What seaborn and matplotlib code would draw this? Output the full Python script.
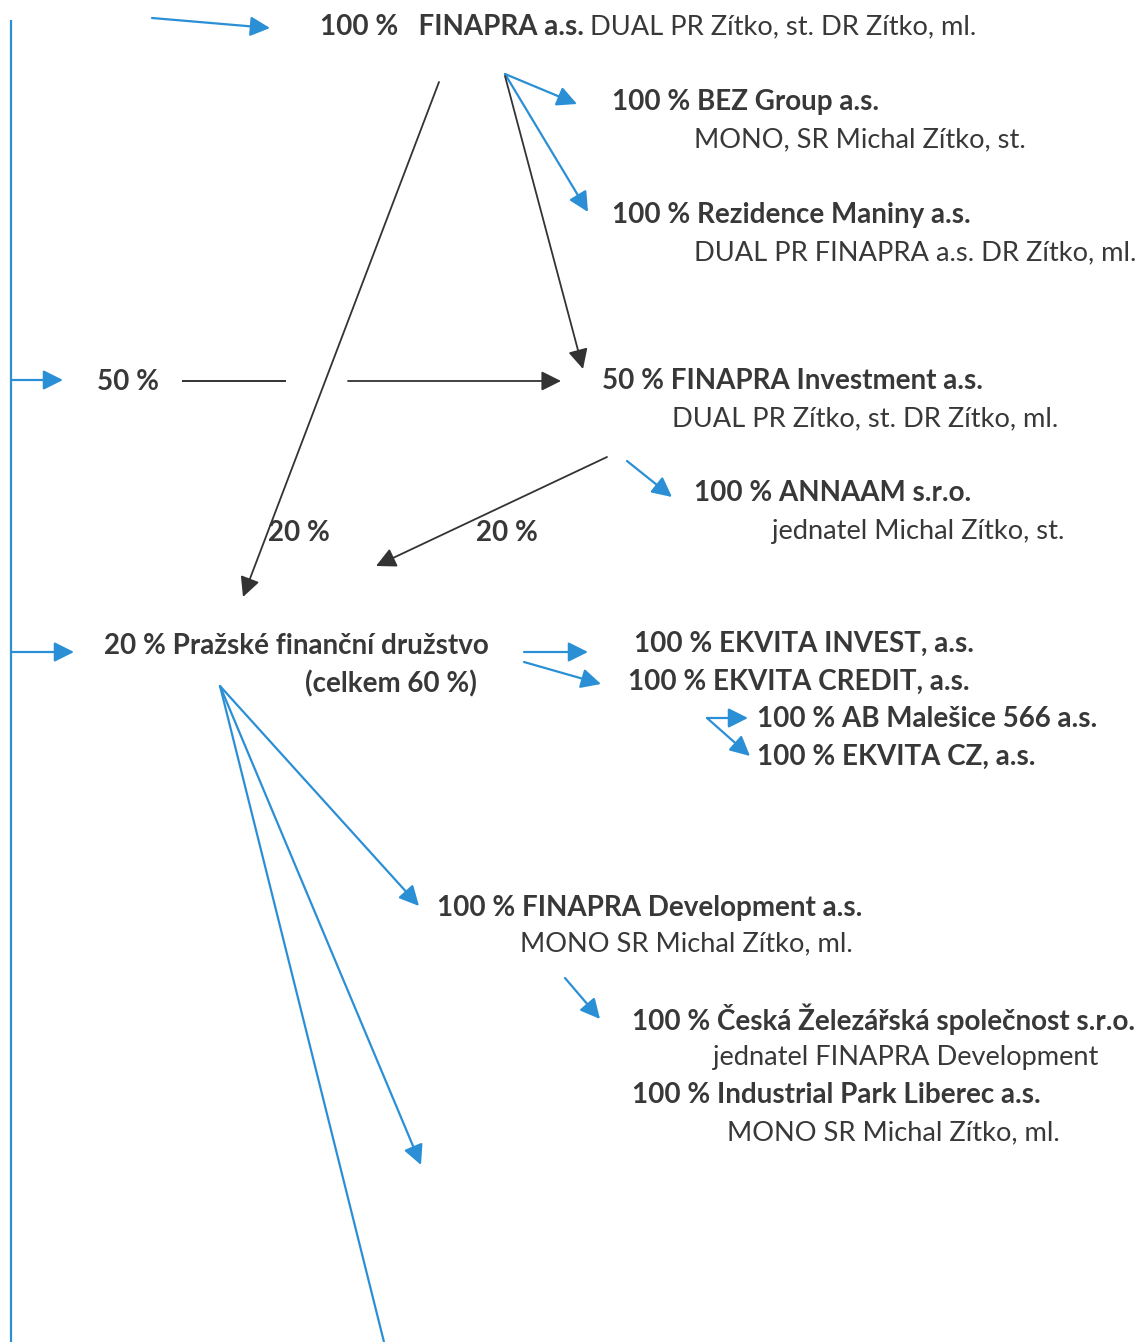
#%%
# Ownership structure diagram - FINAPRA group
import matplotlib
matplotlib.use("Agg")
import matplotlib.pyplot as plt
import seaborn as sns

sns.set_theme(style="white")
plt.rcParams['font.family'] = ['Lato', 'DejaVu Sans']

BLUE = "#2a8fd4"
DARK = "#333333"
TXT = "#383838"

#%%
# Labels (bold company lines and regular management lines)
bold_labels = [
    "100 %   FINAPRA a.s.",
    "100 % BEZ Group a.s.",
    "100 % Rezidence Maniny a.s.",
    "50 %",
    "50 % FINAPRA Investment a.s.",
    "100 % ANNAAM s.r.o.",
    "20 %",
    "20 %",
    "20 % Pražské finanční družstvo",
    "(celkem 60 %)",
    "100 % EKVITA INVEST, a.s.",
    "100 % EKVITA CREDIT, a.s.",
    "100 % AB Malešice 566 a.s.",
    "100 % EKVITA CZ, a.s.",
    "100 % FINAPRA Development a.s.",
    "100 % Česká Železářská společnost s.r.o.",
    "100 % Industrial Park Liberec a.s.",
]
bold_x = [320, 612, 612, 97, 602, 694, 268, 476, 104, 305, 634, 628, 757, 757, 437, 632, 632]
bold_y = [27, 102, 215, 382, 381, 493, 533, 533, 646, 684, 644, 682, 719, 757, 908, 1019, 1095]

regular_labels = [
    "DUAL PR Zítko, st. DR Zítko, ml.",
    "MONO, SR Michal Zítko, st.",
    "DUAL PR FINAPRA a.s. DR Zítko, ml.",
    "DUAL PR Zítko, st. DR Zítko, ml.",
    "jednatel Michal Zítko, st.",
    "MONO SR Michal Zítko, ml.",
    "jednatel FINAPRA Development",
    "MONO SR Michal Zítko, ml.",
]
regular_x = [590, 694, 694, 672, 772, 520, 713, 727]
regular_y = [27, 140, 253, 419, 531, 944, 1057, 1133]

#%%
# Arrows: start -> end (blue = direct 100 % links, dark = shares)
blue_arrows = [
    ((152, 18), (270, 28)),
    ((11, 380), (63, 380)),
    ((11, 652), (74, 652)),
    ((505, 74), (577, 104)),
    ((505, 74), (588, 212)),
    ((627, 461), (672, 497)),
    ((524, 652), (588, 652)),
    ((524, 662), (601, 684)),
    ((707, 718), (748, 718)),
    ((707, 718), (750, 756)),
    ((220, 686), (419, 906)),
    ((220, 686), (421, 1165)),
    ((565, 978), (600, 1019)),
]
dark_arrows = [
    ((439, 82), (243, 597)),
    ((505, 76), (583, 369)),
    ((348, 381), (561, 381)),
    ((607, 457), (376, 566)),
]
blue_lines = [
    ((11, 20), (11, 1342)),
    ((220, 686), (384, 1342)),
]
dark_lines = [
    ((182, 381), (286, 381)),
]

#%%
fig, ax = plt.subplots(figsize=(11.44, 13.42), dpi=100)
fig.subplots_adjust(left=0, right=1, bottom=0, top=1)
ax.set_xlim(0, 1144)
ax.set_ylim(1342, 0)
ax.axis("off")

for (x0, y0), (x1, y1) in blue_lines:
    ax.plot([x0, x1], [y0, y1], color=BLUE, lw=1.6, solid_capstyle="butt")
for (x0, y0), (x1, y1) in dark_lines:
    ax.plot([x0, x1], [y0, y1], color=DARK, lw=1.4, solid_capstyle="butt")

for arrows, col, lw in [(blue_arrows, BLUE, 1.6), (dark_arrows, DARK, 1.3)]:
    for start, end in arrows:
        ax.annotate("", xy=end, xytext=start,
                    arrowprops=dict(arrowstyle="-|>,head_length=0.6,head_width=0.3",
                                    color=col, lw=lw, shrinkA=0, shrinkB=0,
                                    mutation_scale=20))

for lab, x, y in zip(bold_labels, bold_x, bold_y):
    ax.text(x, y, lab, ha="left", va="center", fontsize=20,
            fontweight="bold", color=TXT)
for lab, x, y in zip(regular_labels, regular_x, regular_y):
    ax.text(x, y, lab, ha="left", va="center", fontsize=19.6, color=TXT)

fig.savefig("out.png", dpi=100)
